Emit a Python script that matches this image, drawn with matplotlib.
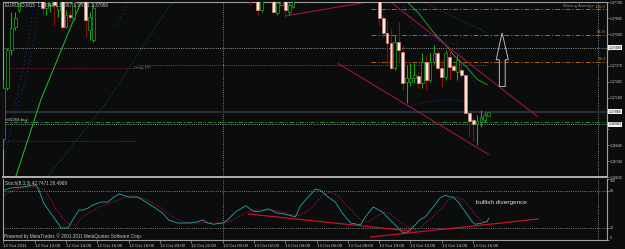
import matplotlib
matplotlib.use("Agg")
import matplotlib.pyplot as plt
import matplotlib.transforms as mtransforms
from matplotlib.patches import Polygon

W, H = 625, 249
BG = "#0b0c0c"
plt.rcParams["font.family"] = ["Liberation Sans", "DejaVu Sans"]

# ---- price bars (M15, bar index 0 = 13 Oct 00:00); only bars inside the window
bar_t = [-56, -55, -54, -53, -52, -46, -45, -44, -43, -42, -41, -40, -39, -38, -35, -34, -33,
         7, 9, 10, 13, 14, 15, 16, 17, 18,
         40, 41, 42, 43, 44, 45, 46, 47, 48, 49, 50, 51, 52, 53, 54, 55, 56, 57, 58, 59, 60,
         61, 62, 63, 64, 65, 66, 67, 68]
bar_open = [1.36884, 1.37226, 1.37476, 1.37627, 1.37739, 1.37838, 1.37752, 1.37772, 1.37838,
            1.37739, 1.37838, 1.37627, 1.37706, 1.37687, 1.37838, 1.37608, 1.37542,
            1.37871, 1.37825, 1.37739, 1.37825, 1.37719, 1.37772, 1.37825, 1.37726, 1.37759,
            1.37838, 1.37687, 1.37588, 1.37522, 1.37358, 1.37529, 1.37463, 1.37265, 1.37265,
            1.37292, 1.37305, 1.37259, 1.37397, 1.37279, 1.37397, 1.37456, 1.37358, 1.37298,
            1.37430, 1.37371, 1.37331, 1.37344, 1.37312, 1.37061, 1.37009, 1.36983, 1.36996,
            1.37015, 1.37041]
bar_high = [1.37279, 1.37489, 1.37726, 1.37726, 1.37838, 1.37871, 1.37871, 1.37871, 1.37871,
            1.37871, 1.37871, 1.37739, 1.37739, 1.37871, 1.37871, 1.37726, 1.37838,
            1.37900, 1.37871, 1.37871, 1.37871, 1.37805, 1.37871, 1.37871, 1.37805, 1.37871,
            1.37871, 1.37706, 1.37673, 1.37621, 1.37575, 1.37660, 1.37509, 1.37377, 1.37390,
            1.37390, 1.37331, 1.37456, 1.37443, 1.37456, 1.37509, 1.37476, 1.37410, 1.37476,
            1.37489, 1.37390, 1.37443, 1.37397, 1.37318, 1.37068, 1.37029, 1.37048, 1.37081,
            1.37068, 1.37067]
bar_low = [1.36818, 1.37213, 1.37443, 1.37608, 1.37726, 1.37706, 1.37706, 1.37726, 1.37641,
           1.37693, 1.37608, 1.37621, 1.37660, 1.37673, 1.37562, 1.37542, 1.37529,
           1.37772, 1.37700, 1.37726, 1.37719, 1.37706, 1.37765, 1.37693, 1.37706, 1.37752,
           1.37641, 1.37562, 1.37377, 1.37344, 1.37344, 1.37397, 1.37213, 1.37121, 1.37239,
           1.37259, 1.37226, 1.37226, 1.37213, 1.37265, 1.37384, 1.37344, 1.37233, 1.37279,
           1.37279, 1.37331, 1.37279, 1.37292, 1.37055, 1.36897, 1.36871, 1.36844, 1.36963,
           1.36996, 1.37041]
bar_close = [1.37226, 1.37476, 1.37621, 1.37687, 1.37818, 1.37752, 1.37825, 1.37838, 1.37772,
             1.37838, 1.37627, 1.37706, 1.37693, 1.37838, 1.37673, 1.37693, 1.37752,
             1.37838, 1.37739, 1.37818, 1.37726, 1.37785, 1.37818, 1.37739, 1.37772, 1.37825,
             1.37687, 1.37588, 1.37522, 1.37358, 1.37529, 1.37476, 1.37259, 1.37292, 1.37292,
             1.37312, 1.37259, 1.37397, 1.37279, 1.37397, 1.37456, 1.37358, 1.37298, 1.37456,
             1.37364, 1.37344, 1.37410, 1.37312, 1.37061, 1.37002, 1.36983, 1.37002, 1.37029,
             1.37048, 1.37066]

# moving averages / bands (visible parts)
ma_fast_t = [-52.8, -46.4, -36.7, -35.9, -35.0]
ma_fast_p = [1.36640, 1.37147, 1.37759, 1.37805, 1.37870]
ma_fast2_t = [44.0, 46.7, 50.0, 53.8, 57.4, 59.4, 62.5, 65.1, 67.6]
ma_fast2_p = [1.37900, 1.37805, 1.37719, 1.37594, 1.37496, 1.37430, 1.37358, 1.37279, 1.37246]
ma_slow_t = [-44.6, -29.1, -20.9, -12.5]
ma_slow_p = [1.36640, 1.37147, 1.37476, 1.37805]
ma_slow2_t = [51.3, 67.6]
ma_slow2_p = [1.37792, 1.37588]
band_a_t = [-55.4, -53.3, -51.0, -50.0, -49.0, -48.2]
band_a_p = [1.36772, 1.37081, 1.37344, 1.37476, 1.37641, 1.37805]
band_b_t = [-53.6, -51.5, -49.7, -48.2, -47.4, -46.9]
band_b_p = [1.36983, 1.37180, 1.37344, 1.37542, 1.37706, 1.37805]
band_c_t = [-27.0, -24.0]
band_c_p = [1.37641, 1.37805]
band_lo_t = [45.4, 49.2, 53.1, 56.9, 60.7, 63.8]
band_lo_p = [1.37081, 1.37114, 1.37134, 1.37147, 1.37140, 1.37121]
band_hi_t = [45.4, 48.5, 53.6, 59.4, 64.8]
band_hi_p = [1.37805, 1.37640, 1.37542, 1.37516, 1.37240]

# trend lines (t0, t1), (p0, p1)
chan_up = ([42.3, 80.4], [1.37805, 1.37035])
chan_dn = ([29.6, 67.9], [1.37384, 1.36785])
top_line = ([16.1, 37.0], [1.37700, 1.37792])

fib_levels = [1.37746, 1.37575, 1.37397]
fib_labels = ["100.0", "61.8", "38.2"]
fib_start = 37.8
level_white = 1.37489
pivot = 1.37377
red_lvl1 = 1.37358
red_lvl2 = 1.36871
bid = 1.37066
order_price = 1.36996
order_line2 = 1.36983

arrow_t = [70.7, 70.7, 69.9, 71.4, 73.0, 72.2, 72.2]
arrow_p = [1.37233, 1.37410, 1.37410, 1.37588, 1.37410, 1.37410, 1.37233]

price_ticks = [1.37790, 1.37685, 1.37580, 1.37475, 1.37370, 1.37265, 1.37160,
               1.37055, 1.36950, 1.36845, 1.36740, 1.36635]

# stochastic
stoch_t = [-56.6, -55.9, -54.1, -51.5, -47.7, -46.9, -45.7, -43.9, -42.1, -41.3, -39.5, -38.3,
           -36.7, -35.7, -34.4, -33.2, -31.1, -29.3, -27.8, -26.5, -25.3, -24.0, -21.7, -19.6,
           -17.6, -15.3, -13.8, -11.5, -8.2, -6.4, -5.1, -3.8, -2.3, 0, 1.3, 3.3, 5.9, 7.9, 9.7,
           11.7, 14.0, 15.6, 18.6, 19.9, 21.7, 23.7, 25.0, 27.0, 28.8, 30.6, 32.7, 35.2, 36.5,
           38.5, 40.8, 42.3, 44.1, 45.9, 47.2, 49.2, 50.5, 51.8, 53.8, 55.6, 56.9, 58.2, 58.9,
           60.2, 62.0, 63.8, 64.5, 66.3, 67.6, 68]
stoch_main = [73, 81, 85, 86, 90, 81, 60, 44, 28, 20, 20, 33, 49, 49, 52, 57, 62, 62, 70, 75,
              73, 70, 70, 62, 54, 44, 33, 28, 28, 30, 33, 28, 26, 28, 33, 46, 56, 47, 47, 51,
              44, 43, 38, 56, 69, 83, 81, 70, 62, 44, 28, 25, 38, 54, 46, 36, 25, 13, 13, 25,
              34, 38, 54, 69, 73, 70, 70, 62, 46, 30, 26, 28, 31, 36]
sig_t = [-56.6, -55, -52, -48, -45.5, -44, -42.5, -40.5, -39, -37.5, -36, -34, -31.5, -29, -27,
         -25, -23, -20.5, -18.5, -16.5, -14.5, -12.5, -10, -7, -4.5, -2, 0.5, 2.5, 4.5, 7, 9.5,
         12, 14.5, 17, 19.5, 21.5, 23.5, 25.5, 27.5, 29.5, 31.5, 33.5, 35.5, 37.5, 39.5, 41.5,
         43, 45, 47, 49, 50.5, 52, 54, 56, 57.5, 59, 61, 62.5, 64.5, 66, 68]
sig_v = [68, 76, 84, 87, 82, 67, 50, 33, 24, 25, 36, 46, 54, 60, 64, 70, 72, 69, 63, 55, 46,
         37, 30, 28, 29, 28, 28, 32, 40, 48, 50, 49, 47, 42, 40, 47, 58, 73, 78, 72, 58, 44,
         32, 30, 40, 46, 42, 32, 22, 16, 20, 29, 40, 52, 64, 70, 68, 58, 42, 32, 28]
div_down = ([6.6, 48.0], [42.6, 15.1])
div_up = ([37.8, 80.6], [5.3, 34.5])

time_t = [-56, -48, -40, -32, -24, -16, -8, 0, 8, 16, 24, 32, 40, 48, 56, 64]
time_lbl = ["12 Oct 2011", "12 Oct 12:00", "12 Oct 14:00", "12 Oct 16:00", "12 Oct 18:00",
            "12 Oct 20:00", "12 Oct 22:00", "13 Oct 00:00", "13 Oct 02:00", "13 Oct 04:00",
            "13 Oct 06:00", "13 Oct 08:00", "13 Oct 10:00", "13 Oct 12:00", "13 Oct 14:00",
            "13 Oct 16:00"]


def rect(x0, y0, x1, y1):
    return [x0 / W, 1 - y1 / H, (x1 - x0) / W, (y1 - y0) / H]


DOT = (0, (1, 1.6))
DASHDOT = (0, (5, 2, 1.5, 2))
TXT = "#c8c8c8"
GRAY = "#a0a0a0"
AXFS = 2.6

fig = plt.figure(figsize=(W / 100, H / 100), dpi=100, facecolor=BG)
ax = fig.add_axes(rect(3, 2, 607, 177), facecolor=BG)
st = fig.add_axes(rect(3, 178.6, 607, 240.3), facecolor=BG, sharex=ax)

ax.set_xlim(-56.1, 98.2)
ax.set_ylim(1.36640, 1.37792)
st.set_ylim(0, 100)

for a in (ax, st):
    for s in a.spines.values():
        s.set_color(GRAY)
        s.set_linewidth(0.8)
ax.spines["bottom"].set_color("#b0b0b0")
ax.spines["bottom"].set_linewidth(1.4)
st.spines["top"].set_visible(False)

# ---- price panel
for a in (ax, st):
    a.axvline(0, color=GRAY, lw=0.6, ls=DOT)
    a.axvline(95.9, color=GRAY, lw=0.6, ls=DOT)

ax.axhline(level_white, color="#c0c0c0", lw=0.6, ls=DOT)
ax.plot([-21.5, 67.6], [pivot, pivot], color="#707070", lw=0.6, ls=DOT)
ax.plot([-56.1, -23.0], [red_lvl1, red_lvl1], color="#a01050", lw=0.7, ls=DOT)
ax.plot([-56.1, -22.2], [red_lvl2, red_lvl2], color="#a01050", lw=0.7, ls=DOT)
ax.text(-22.6, red_lvl1, "Daily PP", color="#7a7a7a", fontsize=3.2, va="center")
ax.axhline(bid, color="#2c2d34", lw=1.6)
ax.axhline(order_price, color="#2a8a2a", lw=0.7, ls=DASHDOT)
ax.axhline(order_line2, color="#b8b8b8", lw=0.6, ls=DOT)
ax.text(-55.5, order_price + 0.00002, "#65268 buy", color=TXT, fontsize=3.2, va="bottom")

for lv, lb in zip(fib_levels, fib_labels):
    ax.plot([fib_start, 98.2], [lv, lv], color="#b0601c", lw=0.7, ls=DASHDOT)
    ax.text(97.9, lv + 0.00003, lb, color="#c87828", fontsize=3.2, ha="right", va="bottom")
ax.text(87.0, 1.37766, "Moving Average", color="#8a8a8a", fontsize=3.2, va="center")

for tt, pp in [(band_a_t, band_a_p), (band_b_t, band_b_p), (band_c_t, band_c_p),
               (band_lo_t, band_lo_p), (band_hi_t, band_hi_p)]:
    ax.plot(tt, pp, color="#2030c0", lw=0.7, ls=(0, (1, 3)))
ax.plot(ma_slow_t, ma_slow_p, color="#0f6a20", lw=0.6, ls=DOT)
ax.plot(ma_slow2_t, ma_slow2_p, color="#0f6a20", lw=0.6, ls=DOT)
ax.plot(ma_fast_t, ma_fast_p, color="#20b020", lw=0.8)
ax.plot(ma_fast2_t, ma_fast2_p, color="#20a020", lw=0.7)

for xs, ys in (chan_up, chan_dn, top_line):
    ax.plot(xs, ys, color="#a0104a", lw=0.8)

# candles
bull = [c >= o for o, c in zip(bar_open, bar_close)]
wick_c = ["#1ca81c" if b else "#900c0c" for b in bull]
ax.vlines(bar_t, bar_low, bar_high, colors=wick_c, lw=0.8, zorder=3)
heights = [c - o for o, c in zip(bar_open, bar_close)]
ax.bar(bar_t, heights, bottom=bar_open, width=0.72,
       color=[BG if b else "#ffe6dc" for b in bull],
       edgecolor=["#1ca81c" if b else "#d88070" for b in bull],
       linewidth=0.5, zorder=4)

ax.add_patch(Polygon(list(zip(arrow_t, arrow_p)), closed=True, fill=False,
                     edgecolor="#b8b8b8", lw=0.7, zorder=5))

ax.yaxis.tick_right()
ax.set_yticks(price_ticks)
ax.set_yticklabels([f"{v:.5f}" if min(abs(v - h) for h in (level_white, bid, order_line2)) > 0.0004 else ""
                    for v in price_ticks])
ax.tick_params(axis="y", length=1.5, width=0.5, color=GRAY, pad=0.6, labelsize=AXFS, labelcolor=TXT)
ax.tick_params(axis="x", bottom=False, labelbottom=False)

trans = mtransforms.blended_transform_factory(ax.transAxes, ax.transData)
for v in (level_white, bid, order_line2):
    ax.text(1.003, v, f"{v:.5f}", transform=trans, fontsize=AXFS, color="#101010",
            va="center", ha="left", clip_on=False,
            bbox=dict(boxstyle="square,pad=0.1", fc="#f4f4f4", ec="none"))

# ---- stochastic panel
st.axhline(80, color=GRAY, lw=0.6, ls=DOT)
st.axhline(20, color=GRAY, lw=0.6, ls=DOT)
st.plot(sig_t, sig_v, color="#c0185a", lw=0.7, ls=(0, (1, 1.5)))
st.plot(stoch_t, stoch_main, color="#26a8a6", lw=0.6)
for xs, ys in (div_down, div_up):
    st.plot(xs, ys, color="#c8102e", lw=0.9)
st.text(64.8, 60.5, "bullish divergence", color="#e0e0e0", fontsize=4.6, va="center")

st.yaxis.tick_right()
st.set_yticks([100, 80, 20, 0])
st.set_yticklabels(["100", "80", "20", "0"])
st.tick_params(axis="y", length=1.5, width=0.5, color=GRAY, pad=0.6, labelsize=AXFS, labelcolor=TXT)
ylbl = st.get_yticklabels()
ylbl[0].set_va("top")
ylbl[-1].set_va("bottom")

st.set_xticks(time_t)
st.set_xticklabels(time_lbl)
st.tick_params(axis="x", length=2, width=0.5, color=GRAY, pad=1, labelsize=3.2, labelcolor=TXT)
for lbl in st.get_xticklabels():
    lbl.set_ha("left")
st.set_xlim(-56.1, 98.2)

# header texts
fig.text(5 / W, 1 - 5 / H, "EURUSD,M15  1.37041 1.37067 1.37041 1.37066",
         color=TXT, fontsize=3.3, va="center")
fig.text(5 / W, 1 - 184 / H, "Stoch(8,3,3) 42.7471 28.4969", color=TXT, fontsize=3.3, va="center")
fig.text(4 / W, 1 - 236 / H, "Powered by MetaTrader, \u00a9 2001-2011 MetaQuotes Software Corp.",
         color=TXT, fontsize=3.3, va="center")

fig.savefig("out.png", dpi=100, facecolor=BG)
